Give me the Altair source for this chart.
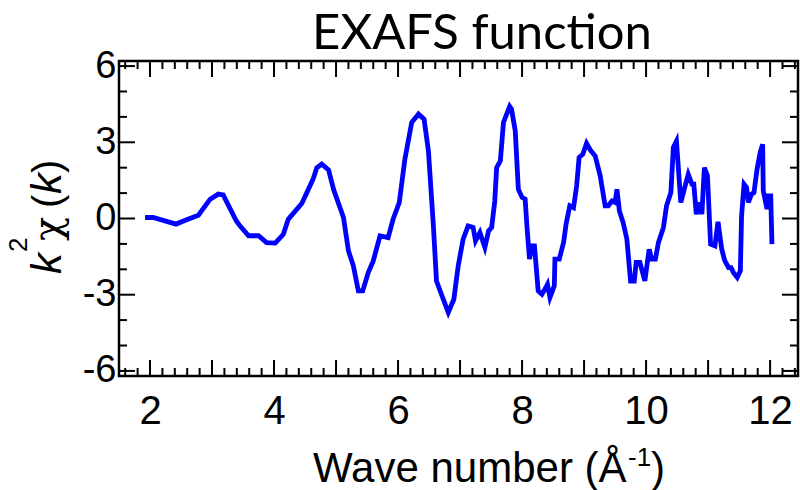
import altair as alt
import pandas as pd

# EXAFS data
k = [1.92, 2.05, 2.42, 2.59, 2.78, 2.97, 3.10, 3.18, 3.39, 3.45, 3.59, 3.75, 3.88, 4.02,
     4.15, 4.23, 4.37, 4.45, 4.53, 4.63, 4.69, 4.77, 4.88, 4.96, 5.12, 5.20, 5.28, 5.36,
     5.43, 5.52, 5.60, 5.71, 5.84, 5.92, 6.02, 6.11, 6.22, 6.33, 6.42, 6.49, 6.57, 6.62,
     6.71, 6.81, 6.90, 6.97, 7.05, 7.13, 7.21, 7.25, 7.32, 7.40, 7.46, 7.51, 7.56, 7.59,
     7.65, 7.70, 7.80, 7.83, 7.89, 7.94, 8.00, 8.05, 8.08, 8.12, 8.16, 8.20, 8.26, 8.32,
     8.37, 8.41, 8.45, 8.52, 8.53, 8.60, 8.67, 8.71, 8.77, 8.83, 8.88, 8.92, 8.98, 9.04,
     9.11, 9.18, 9.26, 9.34, 9.39, 9.45, 9.50, 9.53, 9.57, 9.63, 9.69, 9.75, 9.81, 9.84,
     9.90, 9.98, 10.05, 10.09, 10.15, 10.20, 10.28, 10.33, 10.40, 10.44, 10.49, 10.56,
     10.63, 10.68, 10.74, 10.77, 10.81, 10.86, 10.90, 10.94, 10.99, 11.04, 11.11, 11.16,
     11.22, 11.27, 11.33, 11.37, 11.41, 11.47, 11.52, 11.54, 11.58, 11.62, 11.65, 11.70,
     11.74, 11.79, 11.84, 11.88, 11.89, 11.95, 11.97, 12.01, 12.03]
chi = [0.04, 0.04, -0.22, -0.05, 0.13, 0.76, 0.96, 0.93, -0.09, -0.29, -0.68, -0.68, -0.95, -0.97,
       -0.62, -0.03, 0.37, 0.60, 1.02, 1.55, 2.00, 2.14, 1.91, 1.15, 0.04, -1.27, -1.87, -2.85,
       -2.85, -2.13, -1.67, -0.68, -0.75, -0.03, 0.63, 2.33, 3.78, 4.11, 3.91, 2.66, -0.29, -2.46,
       -3.05, -3.70, -3.18, -1.87, -0.81, -0.29, -0.35, -0.88, -0.55, -1.14, -0.49, -0.35, 0.69, 2.00,
       2.27, 3.78, 4.41, 4.30, 3.45, 1.15, 0.83, 0.76, -0.35, -1.60, -1.08, -1.08, -2.85, -2.98,
       -2.78, -2.59, -3.11, -2.65, -1.60, -1.60, -0.94, -0.22, 0.50, 0.43, 1.28, 2.40, 2.53, 2.96,
       2.66, 2.46, 1.68, 0.50, 0.50, 0.69, 0.63, 1.15, 0.30, -0.16, -0.81, -2.46, -2.46, -1.73,
       -1.73, -2.46, -1.21, -1.60, -1.60, -0.94, -0.35, 0.50, 1.02, 2.80, 3.05, 0.63,
       1.28, 1.74, 1.35, 1.35, 0.17, 0.63, 0.17, 2.00, 1.68, -1.01, -1.08, -0.13,
       -1.21, -1.67, -1.93, -1.93, -2.13, -2.32, -2.06, 0.10, 1.35, 1.22, 0.63, 0.96,
       1.02, 1.94, 2.60, 2.92, 1.09, 0.37, 0.89, 0.89, -1.01]

x_labels = [2, 4, 6, 8, 10, 12]
x_major = [2, 3, 4, 5, 6, 7, 8, 9, 10, 11, 12]
x_minor = [v for v in [round(1.6 + 0.2 * i, 1) for i in range(55)] if abs(v - round(v)) > 1e-6]
y_major = [-6, -3, 0, 3, 6]
y_minor = [-5, -4, -2, -1, 1, 2, 4, 5]

W, H = 679, 315
L, T = 119, 61
xs = alt.Scale(domain=[1.5, 12.45], nice=False, zero=False)
ys = alt.Scale(domain=[-6.2, 6.2], nice=False, zero=False)

AX = "Liberation Sans"
HYPHEN_LABEL = "datum.value < 0 ? '-' + abs(datum.value) : '' + datum.value"

x_axis = alt.Axis(
    values=x_labels, title=None, ticks=False, tickSize=0, domain=False, grid=False,
    labelFont=AX, labelFontSize=40, labelColor="black", labelPadding=47,
    labelBaseline="alphabetic", labelExpr=HYPHEN_LABEL, labelFlush=False)
y_axis = alt.Axis(
    values=y_major, title=None, ticks=False, tickSize=0, domain=False, grid=False,
    labelFont=AX, labelFontSize=38, labelColor="black", labelPadding=3,
    labelBaseline="middle", labelExpr=HYPHEN_LABEL, labelFlush=False)

df = pd.DataFrame({"k": k, "chi": chi})

line = alt.Chart(df).mark_line(color="#0000ff", strokeWidth=4.8).encode(
    x=alt.X("k:Q", scale=xs, axis=x_axis, title=None),
    y=alt.Y("chi:Q", scale=ys, axis=y_axis, title=None),
)


def vticks(vals, y0, y1):
    return alt.Chart(pd.DataFrame({"v": vals})).mark_rule(color="black", strokeWidth=2).encode(
        x=alt.X("v:Q", scale=xs, axis=x_axis, title=None), y=alt.value(y0), y2=alt.value(y1))


def hticks(vals, x0, x1):
    return alt.Chart(pd.DataFrame({"v": vals})).mark_rule(color="black", strokeWidth=2).encode(
        y=alt.Y("v:Q", scale=ys, axis=y_axis, title=None), x=alt.value(x0), x2=alt.value(x1))


ticks = [
    vticks(x_major, H, H - 16), vticks(x_major, 0, 16),
    vticks(x_minor, H, H - 8), vticks(x_minor, 0, 8),
    hticks(y_major, 0, 16), hticks(y_major, W, W - 16),
    hticks(y_minor, 0, 8), hticks(y_minor, W, W - 8),
]

one = pd.DataFrame({"a": [0]})


def txt(s, xa, ya, size, font=AX, style="normal", angle=0, align="left", baseline="alphabetic"):
    return alt.Chart(one).mark_text(
        text=s, font=font, fontSize=size, fontStyle=style, angle=angle, align=align,
        baseline=baseline, color="black").encode(x=alt.value(xa - L), y=alt.value(ya - T))


texts = [
    txt("EXAFS function", 482, 49, 49, font="Lato", align="center"),
    txt("Wave number (Å", 313, 482, 42),
    txt("-1", 628, 466, 26),
    txt(")", 651, 482, 42),
    # y title: k^2 chi(k), rotated
    txt("k", 61, 274, 42, style="italic", angle=270),
    txt("2", 27, 252, 26, angle=270),
    txt("χ", 61, 241, 40, font="DejaVu Serif", angle=270),
    txt("(", 61, 208, 40, angle=270),
    txt("k", 61, 194, 42, style="italic", angle=270),
    txt(")", 61, 173, 40, angle=270),
]

chart = alt.layer(line, *ticks, *texts).properties(
    width=W, height=H,
    autosize=alt.AutoSizeParams(type="none"),
    padding={"left": L, "top": T, "right": 800 - L - W, "bottom": 490 - T - H},
    background="white",
).configure_view(stroke="black", strokeWidth=2.5)

chart.save("out.html", embed_options={"renderer": "svg", "actions": False})
